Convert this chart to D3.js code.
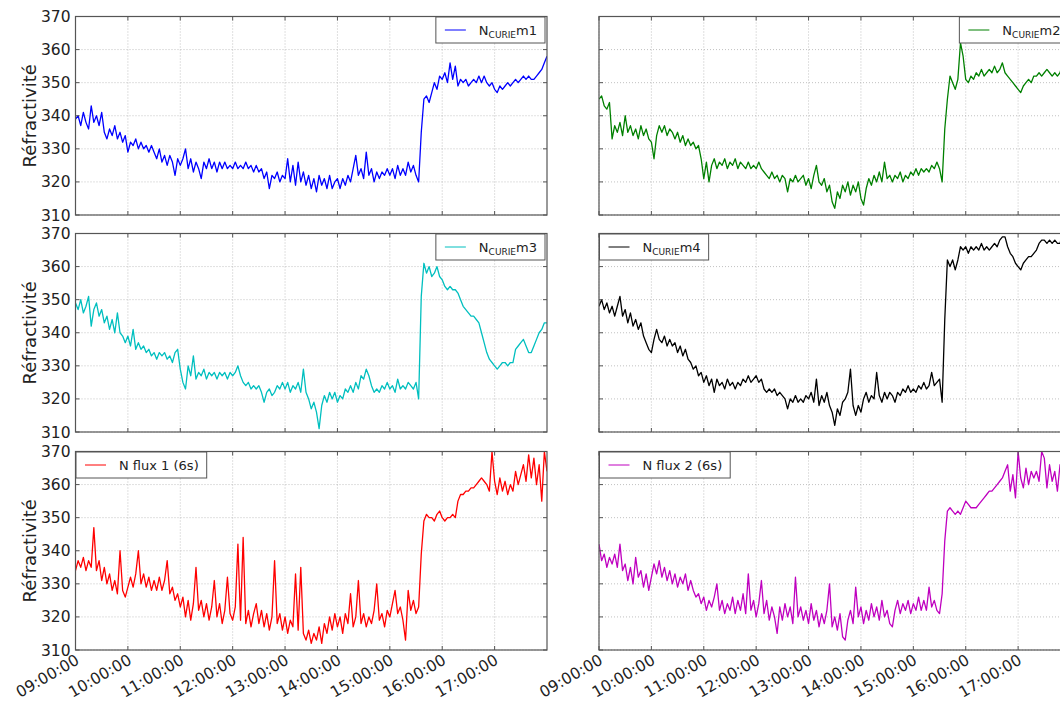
<!DOCTYPE html>
<html><head><meta charset="utf-8">
<script src="https://cdn.jsdelivr.net/npm/d3@7"></script>
<style>body{margin:0;background:#fff}text{font-family:"DejaVu Sans",sans-serif}</style>
</head><body><svg id="c" width="1060" height="709"></svg>
<script>
const startTime = "09:00:00";
const endTime = "18:00:00";
const stepMinutes = 3;
const yTicks = [310, 320, 330, 340, 350, 360, 370];
const xTickLabels = ["09:00:00","10:00:00","11:00:00","12:00:00","13:00:00","14:00:00","15:00:00","16:00:00","17:00:00"];
const yLabel = "Réfractivité";

const nCurieM1 = [339,340,337,341,338,336,343,338,340,337,341,
335,333,336,334,337,333,335,332,334,329,
332,331,333,330,332,330,331,329,331,
329,327,330,326,328,325,328,326,322,327,
325,327,330,324,327,323,326,324,321,326,
324,327,324,326,323,326,324,326,324,325,
324,326,324,325,324,326,324,325,323,325,
323,324,321,323,318,322,321,323,320,322,
321,327,320,325,319,326,320,323,319,322,
318,321,317,322,319,321,318,322,318,320,
321,318,321,319,322,320,324,328,322,324,
321,329,322,324,320,323,321,323,322,324,
322,324,321,325,322,324,322,326,323,325,
322,320,335,345,346,344,347,350,348,352,
351,353,350,356,351,355,349,351,350,351,
349,350,351,350,352,350,352,350,349,350,
348,347,349,348,349,350,349,350,351,350,
351,352,351,352,351,351,352,353,354,356,358];

const nCurieM2 = [345,346,343,342,344,333,337,335,338,334,
340,335,337,334,336,333,337,334,336,333,
332,327,334,337,335,337,334,336,335,333,
335,332,334,331,333,331,332,330,331,327,
321,326,320,325,327,324,326,325,327,324,
326,325,327,324,326,325,324,326,324,325,
324,326,324,323,322,321,323,321,322,320,
322,321,317,321,320,322,320,321,322,319,
321,318,322,325,320,319,321,317,319,314,
312,317,315,319,317,320,316,319,317,320,
315,313,318,321,319,322,320,323,320,326,
321,322,320,322,321,323,320,322,321,323,
322,324,322,324,323,324,323,325,324,326,
324,320,336,345,352,350,348,351,362,358,
351,350,352,351,353,352,354,352,353,354,
353,355,353,354,356,353,352,351,350,349,
348,347,349,350,351,350,352,352,353,352,
353,354,353,352,353,352,353,356,357,356,357];

const nCurieM3 = [349,347,350,346,348,351,342,347,349,345,
347,343,345,341,344,340,346,340,339,337,
339,336,341,335,337,335,336,334,335,333,
334,332,334,333,334,332,333,331,334,335,
329,325,323,330,327,333,326,328,327,329,
326,328,327,328,326,328,327,328,326,328,
327,328,330,327,325,324,325,323,324,323,
324,322,319,322,323,321,322,324,323,325,
323,325,322,324,323,325,322,329,322,320,
317,319,316,311,318,321,319,322,320,322,
319,321,320,323,322,324,322,325,323,327,
326,329,327,324,322,323,322,324,323,325,
323,324,322,326,323,324,323,325,324,323,
325,320,351,361,358,360,357,358,360,357,
356,354,353,354,353,353,352,350,348,347,
346,345,345,344,343,340,337,334,332,331,
330,329,330,331,331,330,331,331,335,336,
337,338,336,334,334,336,338,340,341,343,343];

const nCurieM4 = [348,350,347,349,346,348,345,348,351,345,
347,343,346,342,344,341,343,339,337,335,
334,338,341,338,337,339,336,338,336,337,
334,336,333,335,332,331,329,330,327,328,
325,327,324,326,322,326,324,325,323,326,
324,325,323,325,324,326,325,327,325,326,
327,325,326,323,322,323,322,323,321,322,
321,320,317,320,319,321,319,320,319,321,
320,322,319,326,318,321,319,322,318,316,
312,317,315,319,320,322,329,318,315,318,
316,320,322,319,321,320,328,321,319,322,
320,322,321,319,322,321,323,322,324,322,
323,322,324,323,325,323,324,328,324,325,
326,319,344,362,360,362,359,362,366,365,
366,364,366,365,366,365,367,365,366,365,
366,367,366,368,369,369,366,364,363,361,
360,359,361,362,363,363,364,365,367,368,
368,367,368,367,368,367,367,370,369,370,370];

const nFlux1 = [334,337,335,338,334,337,335,347,334,337,
331,335,330,333,328,331,327,340,328,326,
329,332,329,333,340,330,333,329,332,328,
331,328,332,328,331,337,327,329,325,327,
323,326,320,325,319,324,335,322,325,320,
324,319,323,331,320,324,318,322,332,321,
319,323,342,319,344,318,322,317,321,324,
318,322,317,321,316,320,337,318,321,316,
320,315,319,317,333,316,335,315,313,316,
312,315,313,317,312,318,315,320,316,321,
317,320,315,321,318,327,317,320,331,318,
321,317,320,318,322,330,319,321,317,322,
320,324,328,321,323,319,313,328,322,325,
321,323,339,349,351,350,350,349,351,352,
350,349,350,350,351,350,355,357,357,358,
358,359,359,360,361,362,361,360,358,370,
361,357,362,358,361,357,360,358,364,360,
363,366,361,369,362,368,360,366,355,370,364];

const nFlux2 = [342,337,339,335,338,336,339,335,342,334,
336,331,335,330,338,332,334,329,333,328,
332,336,333,337,332,335,331,334,330,333,
329,332,330,333,328,331,328,326,327,324,
326,322,325,323,326,330,322,325,321,324,
322,326,321,325,322,327,321,333,322,325,
320,324,331,321,325,319,323,320,315,323,
319,324,320,323,318,332,320,323,319,322,
318,324,319,322,317,321,318,322,330,317,
320,316,321,314,313,319,322,318,329,320,
323,318,322,319,324,320,323,319,325,320,
322,318,317,322,325,321,324,322,325,321,
324,322,326,322,325,322,329,323,325,322,
321,327,343,352,353,352,351,352,351,353,
355,354,353,353,353,354,355,356,357,358,
358,359,360,361,362,364,366,358,363,356,
370,362,359,365,360,364,362,364,361,370,
368,359,366,361,364,358,366,360,365,362,366];

const panels = [
  {values: nCurieM1, color: "#0000ff", label: ["N","CURIE","m1"], legend: "right", row: 0, col: 0},
  {values: nCurieM2, color: "#008000", label: ["N","CURIE","m2"], legend: "right", row: 0, col: 1},
  {values: nCurieM3, color: "#00bfbf", label: ["N","CURIE","m3"], legend: "right", row: 1, col: 0},
  {values: nCurieM4, color: "#000000", label: ["N","CURIE","m4"], legend: "left", row: 1, col: 1},
  {values: nFlux1, color: "#ff0000", label: ["N flux 1 (6s)"], legend: "left", row: 2, col: 0},
  {values: nFlux2, color: "#bf00bf", label: ["N flux 2 (6s)"], legend: "left", row: 2, col: 1}
];

const W = 1060, H = 709;
const colX = [75.5, 599];
const rowY = [16.5, 233.5, 451.5];
const pw = 471.5, ph = 198.5;

const svg = d3.select("#c");
svg.append("rect").attr("width", W).attr("height", H).attr("fill", "#fff");
const parse = d3.timeParse("%H:%M:%S");
const t0 = parse(startTime), t1 = parse(endTime);
const tickDates = xTickLabels.map(parse);

panels.forEach((p, k) => {
  const x0 = colX[p.col], y0 = rowY[p.row];
  const x = d3.scaleTime().domain([t0, t1]).range([x0, x0 + pw]);
  const y = d3.scaleLinear().domain([310, 370]).range([y0 + ph, y0]);
  const g = svg.append("g");
  const cid = "clip" + k;
  svg.append("clipPath").attr("id", cid).append("rect")
    .attr("x", x0).attr("y", y0).attr("width", pw).attr("height", ph);

  // grid
  const grid = g.append("g").attr("stroke", "#a8a8a8").attr("stroke-width", 0.7).attr("stroke-dasharray", "1,2");
  tickDates.forEach(d => grid.append("line").attr("x1", x(d)).attr("x2", x(d)).attr("y1", y0).attr("y2", y0 + ph));
  yTicks.forEach(v => grid.append("line").attr("x1", x0).attr("x2", x0 + pw).attr("y1", y(v)).attr("y2", y(v)));

  // series
  const data = p.values.map((v, i) => ({t: d3.timeMinute.offset(t0, i * stepMinutes), v}));
  g.append("path").datum(data).attr("clip-path", `url(#${cid})`)
    .attr("fill", "none").attr("stroke", p.color).attr("stroke-width", 1.3)
    .attr("stroke-linejoin", "round")
    .attr("d", d3.line().x(d => x(d.t)).y(d => y(d.v)));

  // ticks (inward, all sides)
  const tk = g.append("g").attr("stroke", "#555").attr("stroke-width", 1);
  tickDates.forEach(d => {
    tk.append("line").attr("x1", x(d)).attr("x2", x(d)).attr("y1", y0 + ph).attr("y2", y0 + ph - 4);
    tk.append("line").attr("x1", x(d)).attr("x2", x(d)).attr("y1", y0).attr("y2", y0 + 4);
  });
  yTicks.forEach(v => {
    tk.append("line").attr("x1", x0).attr("x2", x0 + 4).attr("y1", y(v)).attr("y2", y(v));
    tk.append("line").attr("x1", x0 + pw).attr("x2", x0 + pw - 4).attr("y1", y(v)).attr("y2", y(v));
  });
  // frame
  g.append("rect").attr("x", x0).attr("y", y0).attr("width", pw).attr("height", ph)
    .attr("fill", "none").attr("stroke", "#555").attr("stroke-width", 1.2);

  // y tick labels + y label on left column
  if (p.col === 0) {
    yTicks.forEach(v => g.append("text").attr("x", x0 - 5).attr("y", y(v)).attr("dy", "0.36em")
      .attr("text-anchor", "end").attr("font-size", 15.5).attr("fill", "#222").text(v));
    g.append("text").attr("transform", `translate(36,${y0 + ph / 2}) rotate(-90)`)
      .attr("text-anchor", "middle").attr("font-size", 18).attr("fill", "#222").text(yLabel);
  }
  // x tick labels on bottom row
  if (p.row === 2) {
    tickDates.forEach((d, i) => g.append("text")
      .attr("transform", `translate(${x(d) - 1},${y0 + ph + 3}) rotate(-30)`)
      .attr("dy", "0.75em").attr("text-anchor", "end").attr("font-size", 15.5).attr("fill", "#222")
      .text(xTickLabels[i]));
  }

  // legend
  const lg = g.append("g");
  const box = lg.append("rect").attr("fill", "#fff").attr("stroke", "#555").attr("stroke-width", 1);
  const line = lg.append("line").attr("stroke", p.color).attr("stroke-width", 1);
  const txt = lg.append("text").attr("font-size", 13).attr("fill", "#222");
  if (p.label.length === 3) {
    txt.append("tspan").text(p.label[0]);
    txt.append("tspan").attr("font-size", 9).attr("dy", 3).text(p.label[1]);
    txt.append("tspan").attr("font-size", 13).attr("dy", -3).text(p.label[2]);
  } else {
    txt.text(p.label[0]);
  }
  const tw = txt.node().getBBox().width;
  const lw = 43 + tw + 8, lh = 26;
  const lx = p.legend === "right" ? x0 + pw - 2 - lw : x0 + 0.5;
  const ly = y0 + 0.5;
  box.attr("x", lx).attr("y", ly).attr("width", lw).attr("height", lh);
  line.attr("x1", lx + 9).attr("x2", lx + 30).attr("y1", ly + lh / 2).attr("y2", ly + lh / 2);
  txt.attr("x", lx + 43).attr("y", ly + lh / 2 + 4.5);
});
</script>
</body></html>
